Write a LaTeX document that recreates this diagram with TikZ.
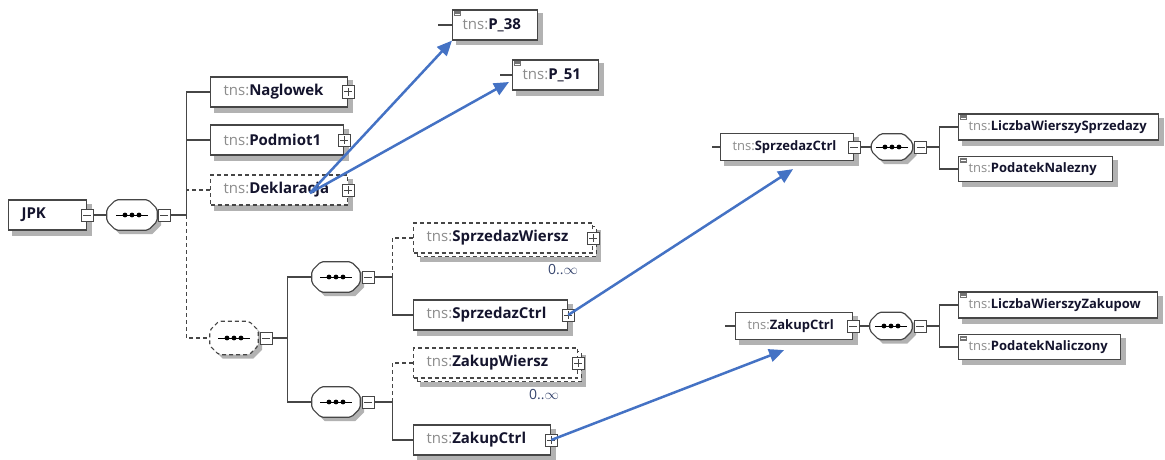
\documentclass[tikz,border=0pt]{standalone}
\usepackage{fontspec}
\setmainfont{Open Sans}
\usetikzlibrary{shadows,arrows.meta,calc,backgrounds}
\definecolor{boxgray}{RGB}{70,70,70}
\definecolor{tnsgray}{RGB}{140,140,140}
\definecolor{namenavy}{RGB}{20,20,45}
\definecolor{linkblue}{RGB}{68,114,196}
\definecolor{shadowgray}{RGB}{178,178,178}
\definecolor{rangeblue}{RGB}{55,70,110}

\newcommand{\tns}[1]{{\color{tnsgray}tns:}{\bfseries\color{namenavy}#1}}
% +/- box sitting on an edge
\newcommand{\pmbox}[2]{%
  \draw[boxgray, fill=white, line width=1pt] ($(#1)+(-6,-6)$) rectangle ($(#1)+(6,6)$);
  \draw[boxgray, line width=1pt] ($(#1)+(-4,0)$) -- ($(#1)+(4,0)$);
  \ifx#2+\draw[boxgray, line width=1pt] ($(#1)+(0,-4)$) -- ($(#1)+(0,4)$);\fi}
% outline of a compositor (corners cut)
\newcommand{\octpath}[1]{($(#1.north west)+(9,0)$) -- ($(#1.north east)+(-9,0)$)
  -- ($(#1.north east)+(0,9)$) -- ($(#1.south east)+(0,-9)$)
  -- ($(#1.south east)+(-9,0)$) -- ($(#1.south west)+(9,0)$)
  -- ($(#1.south west)+(0,-9)$) -- ($(#1.north west)+(0,9)$) -- cycle}
% compositor body: shadow, outline, line with three dots
\newcommand{\seqbody}[2][]{%
  \fill[shadowgray, transform canvas={shift={(4pt,-4pt)}}] \octpath{#2};
  \filldraw[draw=boxgray, fill=white, line width=1.2pt, rounded corners=2pt, #1] \octpath{#2};
  \draw[black, line width=1pt] ($(#2)+(-16,0)$) -- ($(#2)+(16,0)$);
  \foreach \dx in {-7,0,7} \fill ($(#2)+(\dx,0)$) circle (2.4);}
% simple type mark, top left corner
\newcommand{\simpleicon}[1]{%
  \fill[black!55] ($(#1.north west)+(2,2)$) rectangle ++(7,5);
  \draw[white, line width=0.6pt] ($(#1.north west)+(3,4.5)$) -- ++(5,0);}

\begin{document}
\begin{tikzpicture}[x=1pt,y=-1pt,
  elem/.style={draw=boxgray, fill=white, line width=1.2pt, anchor=west,
    align=left, inner xsep=13pt, inner ysep=0pt, minimum height=30pt,
    font=\fontsize{15}{18}\selectfont,
    preaction={fill=shadowgray, draw=shadowgray, solid, line width=2pt,
      transform canvas={shift={(4.5pt,-4.5pt)}}}},
  opt/.style={elem, dash pattern=on 4pt off 3pt},
  multi/.style={draw=boxgray, fill=white, line width=1.2pt, anchor=west,
    align=left, inner xsep=13pt, inner ysep=0pt, minimum height=30pt,
    font=\fontsize{15}{18}\selectfont, dash pattern=on 4pt off 3pt,
    preaction={fill=shadowgray, draw=shadowgray, solid, line width=2pt,
      transform canvas={shift={(7.5pt,-7.5pt)}}},
    preaction={fill=white, draw=boxgray, transform canvas={shift={(3.5pt,-3.5pt)}}}},
  small/.style={minimum height=27pt, inner xsep=12pt, font=\fontsize{13}{15}\selectfont},
  seq/.style={minimum width=50pt, minimum height=30pt, inner sep=0pt},
  conn/.style={boxgray, line width=1.3pt},
  link/.style={linkblue, line width=2.5pt, -{Triangle[length=15pt,width=13pt]}},
  rangelabel/.style={rangeblue, font=\fontsize{14}{16}\selectfont, inner sep=0pt}]
  \useasboundingbox (0,0) rectangle (1165,460);

  % main tree
  \node[elem, text width=52pt] (jpk) at (8,215) {\bfseries\color{namenavy}JPK};
  \node[seq] (s1) at (132,215) {};
  \node[elem, text width=111pt] (nag) at (210,92) {\tns{Naglowek}};
  \node[elem, text width=107pt] (pod) at (210,140) {\tns{Podmiot1}};
  \node[opt, text width=111pt] (dek) at (210,190) {\tns{Deklaracja}};
  \node[seq, minimum width=48pt, minimum height=33pt] (s2) at (234,338) {};
  \node[seq, minimum width=48pt] (s3) at (336,277) {};
  \node[seq, minimum width=48pt] (s4) at (336,402) {};
  \node[multi, text width=153pt] (swi) at (413,238) {\tns{SprzedazWiersz}};
  \node[elem, text width=128pt] (sct) at (413,315) {\tns{SprzedazCtrl}};
  \node[multi, text width=138pt] (zwi) at (413,363) {\tns{ZakupWiersz}};
  \node[elem, text width=111pt] (zct) at (413,440) {\tns{ZakupCtrl}};
  \node[rangelabel, anchor=north east] (swirange) at ($(swi.south east)+(-15,11)$) {0..$\infty$};
  \node[rangelabel, anchor=north east] (zwirange) at ($(zwi.south east)+(-19,11)$) {0..$\infty$};

  % Deklaracja children
  \node[elem, inner xsep=10pt, text width=65pt] (p38) at (452,25) {\tns{P\_38}};
  \node[elem, inner xsep=10pt, text width=66pt] (p51) at (512,75) {\tns{P\_51}};

  % SprzedazCtrl detail
  \node[elem, small, text width=109pt] (sct2) at (720,147) {\tns{SprzedazCtrl}};
  \node[seq, minimum width=41pt, minimum height=26pt] (s5) at (892,147) {};
  \node[elem, small, minimum height=26pt, inner xsep=10pt, text width=180pt] (lws) at (958,127) {\tns{LiczbaWierszySprzedazy}};
  \node[elem, small, minimum height=25pt, inner xsep=10pt, text width=134pt] (pnz) at (958,169) {\tns{PodatekNalezny}};

  % ZakupCtrl detail
  \node[elem, small, text width=93pt] (zct2) at (735,326) {\tns{ZakupCtrl}};
  \node[seq, minimum width=42pt, minimum height=27pt] (s6) at (891,326) {};
  \node[elem, small, minimum height=26pt, inner xsep=10pt, text width=179pt] (lwz) at (958,305) {\tns{LiczbaWierszyZakupow}};
  \node[elem, small, minimum height=25pt, inner xsep=10pt, text width=142pt] (pnc) at (958,347) {\tns{PodatekNaliczony}};

  \seqbody{s1}
  \seqbody[dash pattern=on 4pt off 3pt]{s2}
  \seqbody{s3}
  \seqbody{s4}
  \seqbody{s5}
  \seqbody{s6}
  \foreach \e in {p38,p51,lws,pnz,lwz,pnc} \simpleicon{\e};

  % minus boxes of the compositors and bus points
  \coordinate (s1m) at ($(s1.east)+(7,0)$);
  \coordinate (s2m) at ($(s2.east)+(8,0)$);
  \coordinate (s3m) at ($(s3.east)+(8,0)$);
  \coordinate (s4m) at ($(s4.east)+(8,0)$);
  \coordinate (s5m) at ($(s5.east)+(8,0)$);
  \coordinate (s6m) at ($(s6.east)+(8,0)$);
  \coordinate (b1) at ($(s1m)+(22,0)$);
  \coordinate (b2) at ($(s2m)+(21,0)$);
  \coordinate (b3) at ($(s3m)+(24,0)$);
  \coordinate (b4) at ($(s4m)+(24,0)$);
  \coordinate (b5) at ($(s5m)+(19,0)$);
  \coordinate (b6) at ($(s6m)+(19,0)$);

  % connectors
  \draw[conn] (jpk.east) ++(6,0) -- (s1.west);
  \draw[conn] (s1m) ++(6,0) -- (b1) |- (nag.west);
  \draw[conn] (b1) |- (pod.west);
  \draw[conn, dash pattern=on 4pt off 3pt] (dek.west) -- (dek.west -| b1);
  \draw[conn, dash pattern=on 4pt off 3pt] (b1) |- (s2.west);
  \draw[conn] (s2m) ++(6,0) -- (b2);
  \draw[conn] (s3.west) -| (b2) |- (s4.west);
  \draw[conn, dash pattern=on 4pt off 3pt] (swi.west) -| (b3);
  \draw[conn] (s3m) ++(6,0) -- (b3) |- (sct.west);
  \draw[conn, dash pattern=on 4pt off 3pt] (zwi.west) -| (b4);
  \draw[conn] (s4m) ++(6,0) -- (b4) |- (zct.west);
  \draw[conn] (p38.west) -- ++(-14,0);
  \draw[conn] (p51.west) -- ++(-12,0);
  \draw[conn] (sct2.west) -- ++(-8,0);
  \draw[conn] (sct2.east) ++(6,0) -- (s5.west);
  \draw[conn] (s5m) ++(6,0) -- (b5);
  \draw[conn] (lws.west) -| (b5) |- (pnz.west);
  \draw[conn] (zct2.west) -- ++(-10,0);
  \draw[conn] (zct2.east) ++(6,0) -- (s6.west);
  \draw[conn] (s6m) ++(6,0) -- (b6);
  \draw[conn] (lwz.west) -| (b6) |- (pnc.west);

  % plus and minus boxes
  \pmbox{jpk.east}{-}
  \pmbox{s1m}{-}
  \pmbox{s2m}{-}
  \pmbox{s3m}{-}
  \pmbox{s4m}{-}
  \pmbox{s5m}{-}
  \pmbox{s6m}{-}
  \pmbox{nag.east}{+}
  \pmbox{pod.east}{+}
  \pmbox{dek.east}{+}
  \pmbox{swi.east}{+}
  \pmbox{sct.east}{+}
  \pmbox{zwi.east}{+}
  \pmbox{zct.east}{+}
  \pmbox{sct2.east}{-}
  \pmbox{zct2.east}{-}

  % blue links
  \coordinate (dekhit) at (310,193);
  \draw[link] (dekhit) -- (p38.south west);
  \draw[link] (dekhit) -- ($(p51.west)+(-3,7)$);
  \draw[link] (sct.east) -- ($(sct2.south)+(6,8)$);
  \draw[link] (zct.east) -- ($(zct2.south)+(-10,10)$);
\end{tikzpicture}
\end{document}
